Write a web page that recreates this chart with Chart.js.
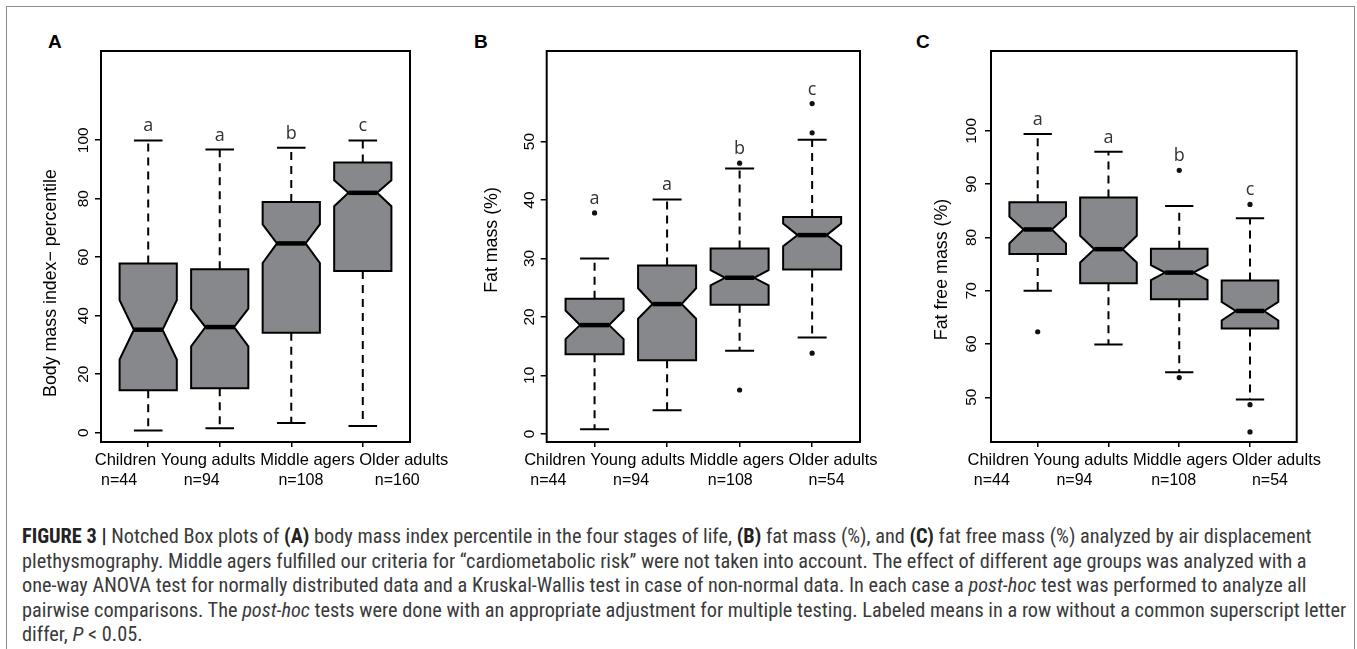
<!DOCTYPE html>
<html>
<head>
<meta charset="utf-8">
<script src="https://cdn.jsdelivr.net/npm/chart.js@4.4.0/dist/chart.umd.min.js"></script>
<style>
  html, body { margin: 0; padding: 0; background: #fff; }
  body { width: 1357px; height: 649px; position: relative; overflow: hidden; font-family: "Liberation Sans", Arial, sans-serif; }
  .frame { position: absolute; left: 6px; top: 6px; width: 1347px; height: 700px; border: 1.5px solid #8d8d8d; border-bottom: none; }
  canvas { position: absolute; }
  .tag { position: absolute; font: bold 19px/19px "Liberation Sans", Arial, sans-serif; color: #000; }
  #caption { position: absolute; left: 22px; top: 524px; white-space: nowrap; color: #3a3a3a; line-height: 24.5px;
             font-family: "Liberation Sans Narrow", "Roboto Condensed", Roboto, Arial, sans-serif; font-size: 17px; }
  #caption span { display: inline-block; }
  #caption b { color: #222; }
</style>
</head>
<body>
<div class="frame"></div>
<div class="tag" style="left:48px;top:32px">A</div>
<div class="tag" style="left:474px;top:32px">B</div>
<div class="tag" style="left:916px;top:32px">C</div>

<canvas id="chartA" width="445" height="505" style="left:10px;top:10px"></canvas>
<canvas id="chartB" width="450" height="505" style="left:455px;top:10px"></canvas>
<canvas id="chartC" width="447" height="505" style="left:905px;top:10px"></canvas>

<div id="caption">
<div><span id="line1"><b>FIGURE 3 |</b> Notched Box plots of <b>(A)</b> body mass index percentile in the four stages of life, <b>(B)</b> fat mass (%), and <b>(C)</b> fat free mass (%) analyzed by air displacement</span></div>
<div><span>plethysmography. Middle agers fulfilled our criteria for “cardiometabolic risk” were not taken into account. The effect of different age groups was analyzed with a</span></div>
<div><span>one-way ANOVA test for normally distributed data and a Kruskal-Wallis test in case of non-normal data. In each case a <i>post-hoc</i> test was performed to analyze all</span></div>
<div><span id="line4">pairwise comparisons. The <i>post-hoc</i> tests were done with an appropriate adjustment for multiple testing. Labeled means in a row without a common superscript letter</span></div>
<div><span>differ, <i>P</i> &lt; 0.05.</span></div>
</div>

<script>
// groups shared by the three panels
const categories = ["Children", "Young adults", "Middle agers", "Older adults"];
const letters = ["a", "a", "b", "c"];

// A - body mass index percentile
const nA = [44, 94, 108, 160];
const lowA = [0.7, 1.5, 3.3, 2.3];
const q1A = [14.5, 15.2, 34.2, 55.3];
const medA = [35.2, 36.1, 64.7, 82.0];
const q3A = [57.8, 55.9, 78.9, 92.4];
const highA = [99.9, 96.8, 97.4, 99.9];
const notchLoA = [25.0, 29.5, 58.0, 77.4];
const notchHiA = [45.3, 42.4, 71.2, 86.3];
const outliersA = [[], [], [], []];
const ticksA = [0, 20, 40, 60, 80, 100];

// B - fat mass (%)
const nB = [44, 94, 108, 54];
const lowB = [0.8, 4.05, 14.2, 16.5];
const q1B = [13.6, 12.6, 22.1, 28.1];
const medB = [18.6, 22.2, 26.7, 34.0];
const q3B = [23.1, 28.8, 31.7, 37.1];
const highB = [30.0, 40.1, 45.4, 50.3];
const notchLoB = [16.2, 19.7, 25.4, 32.1];
const notchHiB = [21.1, 24.9, 28.0, 36.0];
const outliersB = [[37.8], [], [46.3, 7.5], [56.5, 51.5, 13.8]];
const ticksB = [0, 10, 20, 30, 40, 50];

// C - fat free mass (%)
const nC = [44, 94, 108, 54];
const lowC = [70.0, 59.9, 54.7, 49.6];
const q1C = [76.9, 71.4, 68.4, 62.9];
const medC = [81.5, 77.8, 73.4, 66.2];
const q3C = [86.6, 87.5, 77.9, 71.9];
const highC = [99.4, 96.1, 85.9, 83.6];
const notchLoC = [78.9, 75.3, 72.0, 64.4];
const notchHiC = [83.9, 80.3, 74.8, 67.9];
const outliersC = [[62.3], [], [92.6, 53.7], [86.2, 48.6, 43.5]];
const ticksC = [50, 60, 70, 80, 90, 100];

const ARIAL = '"Liberation Sans", Arial, sans-serif';
const BOX_FILL = "#86888c";

function notchedBoxes(p) {
    return {
        id: "notchedBoxes",
        beforeDatasetsDraw(chart) {
            const ctx = chart.ctx;
            const xs = chart.scales.x;
            const ys = chart.scales.y;
            const half = (xs.getPixelForValue(1) - xs.getPixelForValue(0)) * 0.4;
            ctx.save();
            ctx.strokeStyle = "#000";
            ctx.lineJoin = "miter";
            categories.forEach(function (c, i) {
                const cx = xs.getPixelForValue(i + 1);
                const yLow = ys.getPixelForValue(p.low[i]);
                const yQ1 = ys.getPixelForValue(p.q1[i]);
                const yMed = ys.getPixelForValue(p.med[i]);
                const yQ3 = ys.getPixelForValue(p.q3[i]);
                const yHigh = ys.getPixelForValue(p.high[i]);
                const yNlo = ys.getPixelForValue(p.notchLo[i]);
                const yNhi = ys.getPixelForValue(p.notchHi[i]);

                // whiskers
                ctx.lineWidth = 2;
                ctx.setLineDash([8, 6]);
                ctx.beginPath();
                ctx.moveTo(cx, yQ3); ctx.lineTo(cx, yHigh);
                ctx.moveTo(cx, yQ1); ctx.lineTo(cx, yLow);
                ctx.stroke();
                ctx.setLineDash([]);
                ctx.beginPath();
                ctx.moveTo(cx - half / 2, yHigh); ctx.lineTo(cx + half / 2, yHigh);
                ctx.moveTo(cx - half / 2, yLow); ctx.lineTo(cx + half / 2, yLow);
                ctx.stroke();

                // notched box
                ctx.beginPath();
                ctx.moveTo(cx - half, yQ1);
                ctx.lineTo(cx - half, yNlo);
                ctx.lineTo(cx - half / 2, yMed);
                ctx.lineTo(cx - half, yNhi);
                ctx.lineTo(cx - half, yQ3);
                ctx.lineTo(cx + half, yQ3);
                ctx.lineTo(cx + half, yNhi);
                ctx.lineTo(cx + half / 2, yMed);
                ctx.lineTo(cx + half, yNlo);
                ctx.lineTo(cx + half, yQ1);
                ctx.closePath();
                ctx.fillStyle = BOX_FILL;
                ctx.fill();
                ctx.lineWidth = 2;
                ctx.stroke();

                // median
                ctx.lineWidth = 4.5;
                ctx.beginPath();
                ctx.moveTo(cx - half / 2, yMed); ctx.lineTo(cx + half / 2, yMed);
                ctx.stroke();
            });
            ctx.restore();
        },
        afterDraw(chart) {
            const ctx = chart.ctx;
            const a = chart.chartArea;
            const xs = chart.scales.x;
            const ys = chart.scales.y;
            ctx.save();

            // plot frame
            ctx.strokeStyle = "#000";
            ctx.lineWidth = 2;
            ctx.strokeRect(a.left, a.top, a.right - a.left, a.bottom - a.top);

            // significance letters
            ctx.fillStyle = "#333";
            ctx.font = '18px "Open Sans", "Noto Sans", sans-serif';
            ctx.textAlign = "center";
            ctx.textBaseline = "alphabetic";
            categories.forEach(function (c, i) {
                const top = Math.max(p.high[i], ...p.outliers[i]);
                ctx.fillText(letters[i], xs.getPixelForValue(i + 1), ys.getPixelForValue(top) - 9);
            });

            // group names and sizes
            ctx.fillStyle = "#000";
            ctx.font = "16.5px " + ARIAL;
            ctx.textAlign = "left";
            const line = categories.join(" ");
            const startX = (a.left + a.right) / 2 + p.labelShift - ctx.measureText(line).width / 2;
            ctx.fillText(line, startX, a.bottom + 23);
            const centers = [];
            let pos = startX;
            categories.forEach(function (c) {
                const w = ctx.measureText(c).width;
                centers.push(pos + w / 2);
                pos += w + ctx.measureText(" ").width;
            });
            ctx.font = "16px " + ARIAL;
            ctx.textAlign = "center";
            p.n.forEach(function (n, i) {
                ctx.fillText("n=" + n, centers[i] - 6.5, a.bottom + 43);
            });

            // y axis title
            ctx.font = "17.8px " + ARIAL;
            ctx.textBaseline = "middle";
            ctx.translate(a.left + p.titleDx, (a.top + a.bottom) / 2 + p.titleDy);
            ctx.rotate(-Math.PI / 2);
            ctx.fillText(p.title, 0, 0);
            ctx.restore();
        }
    };
}

function drawPanel(id, p) {
    const points = [];
    p.outliers.forEach(function (vals, i) {
        vals.forEach(function (v) { points.push({ x: i + 1, y: v }); });
    });
    const ctx = document.getElementById(id).getContext("2d");
    return new Chart(ctx, {
        type: "scatter",
        data: {
            datasets: [{
                data: points,
                pointRadius: 2.6,
                pointHoverRadius: 2.6,
                backgroundColor: "#111",
                borderWidth: 0,
            }],
        },
        options: {
            responsive: false,
            animation: false,
            events: [],
            layout: { padding: { left: 0, right: p.padRight, top: 41, bottom: 0 } },
            plugins: { legend: { display: false }, tooltip: { enabled: false } },
            scales: {
                x: {
                    type: "linear",
                    min: 0.34,
                    max: 4.66,
                    afterBuildTicks: function (s) { s.ticks = categories.map(function (c, i) { return { value: i + 1 }; }); },
                    afterFit: function (s) { s.height = 73; },
                    ticks: { display: false },
                    border: { display: false },
                    grid: { drawOnChartArea: false, drawTicks: true, tickLength: 5, color: "#000", lineWidth: 1.5 },
                },
                y: {
                    type: "linear",
                    min: p.min,
                    max: p.max,
                    afterBuildTicks: function (s) { s.ticks = p.ticks.map(function (v) { return { value: v }; }); },
                    afterFit: function (s) { s.width = p.axisWidth; },
                    ticks: {
                        minRotation: 90,
                        maxRotation: 90,
                        crossAlign: "center",
                        padding: p.tickPad,
                        autoSkip: false,
                        color: "#000",
                        font: { family: ARIAL, size: 15.5 },
                    },
                    border: { display: false },
                    grid: { drawOnChartArea: false, drawTicks: true, tickLength: 6, color: "#000", lineWidth: 1.5 },
                },
            },
        },
        plugins: [notchedBoxes(p)],
    });
}

drawPanel("chartA", {
    n: nA, low: lowA, q1: q1A, med: medA, q3: q3A, high: highA,
    notchLo: notchLoA, notchHi: notchHiA, outliers: outliersA, ticks: ticksA,
    min: -3.2, max: 130.5, axisWidth: 91, padRight: 45, tickPad: -1.4,
    labelShift: 16, titleDx: -50, titleDy: 36.5,
    title: "Body mass index\u2212 percentile",
});
drawPanel("chartB", {
    n: nB, low: lowB, q1: q1B, med: medB, q3: q3B, high: highB,
    notchLo: notchLoB, notchHi: notchHiB, outliers: outliersB, ticks: ticksB,
    min: -1.4, max: 65.5, axisWidth: 91.7, padRight: 45, tickPad: 2.1,
    labelShift: -2.5, titleDx: -54.2, titleDy: -6.5,
    title: "Fat mass (%)",
});
drawPanel("chartC", {
    n: nC, low: lowC, q1: q1C, med: medC, q3: q3C, high: highC,
    notchLo: notchLoC, notchHi: notchHiC, outliers: outliersC, ticks: ticksC,
    min: 41.6, max: 115, axisWidth: 86, padRight: 55.3, tickPad: 0.4,
    labelShift: 0.4, titleDx: -48.5, titleDy: 23,
    title: "Fat free mass (%)",
});

// fit the caption to the widths its first and fourth lines have in the figure
const cap = document.getElementById("caption");
const w1 = document.getElementById("line1").getBoundingClientRect().width;
const w4 = document.getElementById("line4").getBoundingClientRect().width;
const k = (1297 / w1 + 1318 / w4) / 2;
cap.style.fontSize = (17 * k).toFixed(2) + "px";
</script>
</body>
</html>
